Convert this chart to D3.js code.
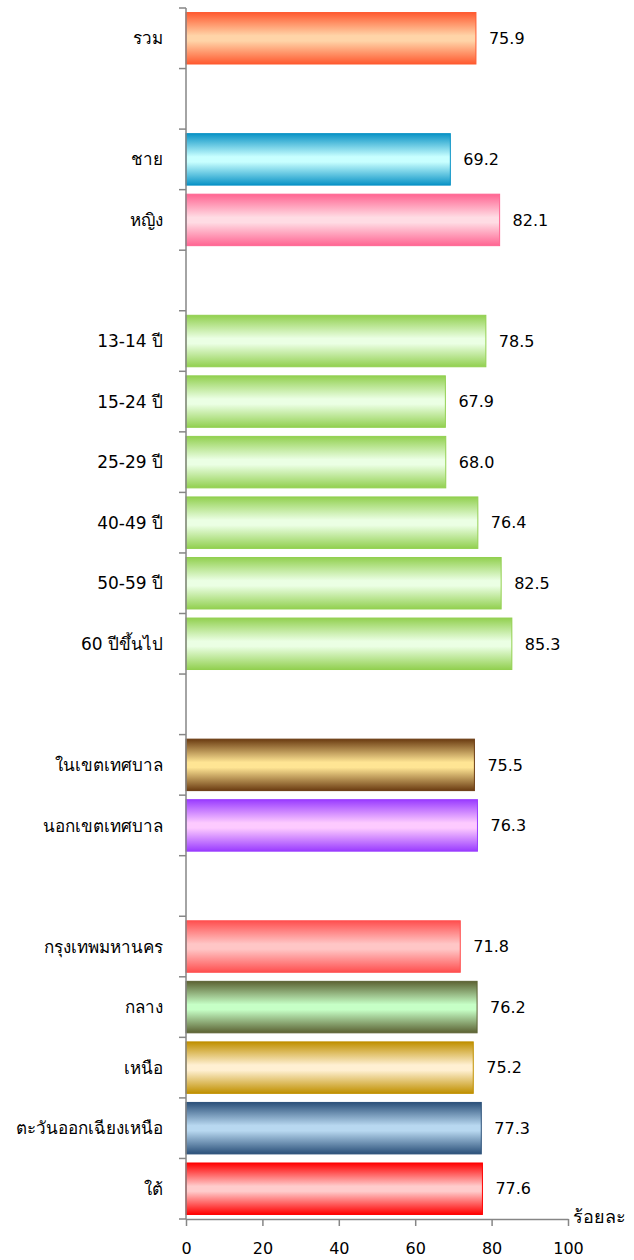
<!DOCTYPE html>
<html>
<head>
<meta charset="utf-8">
<script src="https://cdn.jsdelivr.net/npm/d3@7"></script>
<style>
  html, body { margin: 0; padding: 0; background: #fff; }
  svg { display: block; }
  text { font-family: "DejaVu Sans", "Noto Sans", sans-serif; fill: #000; }
</style>
</head>
<body>
<svg id="chart" width="634" height="1260"></svg>
<script>
// ---- data ----
const categories = ["รวม", "", "ชาย", "หญิง", "",
  "13-14 ปี", "15-24 ปี", "25-29 ปี", "40-49 ปี", "50-59 ปี", "60 ปีขึ้นไป", "",
  "ในเขตเทศบาล", "นอกเขตเทศบาล", "",
  "กรุงเทพมหานคร", "กลาง", "เหนือ", "ตะวันออกเฉียงเหนือ", "ใต้"];
const values = [75.9, null, 69.2, 82.1, null,
  78.5, 67.9, 68.0, 76.4, 82.5, 85.3, null,
  75.5, 76.3, null,
  71.8, 76.2, 75.2, 77.3, 77.6];
const xTicks = [0, 20, 40, 60, 80, 100];
const unitLabel = "ร้อยละ";

// colour pairs [edge, centre] per row
const edgeColors = ["#ff5a30", null, "#0a93c6", "#ff6592", null,
  "#92d050", "#92d050", "#92d050", "#92d050", "#92d050", "#92d050", null,
  "#6b3c12", "#9a3cff", null,
  "#ff4f4f", "#5c6233", "#c09000", "#2b5079", "#ff0000"];
const lightColors = ["#ffd4a8", null, "#c8ffff", "#ffdce4", null,
  "#ebffe4", "#ebffe4", "#ebffe4", "#ebffe4", "#ebffe4", "#ebffe4", null,
  "#ffe594", "#fdcaff", null,
  "#ffc6c6", "#c6ffc6", "#fff0d2", "#b8d8f0", "#ffcccc"];

// ---- layout ----
const svg = d3.select("#chart");
const mLeft = 186, mRight = 568, mTop = 8, mBottom = 1219;
const rows = categories.map((d, i) => i);

const x = d3.scaleLinear().domain([0, 100]).range([mLeft, mRight]);
const y = d3.scaleBand().domain(rows).range([mTop, mBottom]).padding(0);
const barH = y.bandwidth() * 0.85;

const defs = svg.append("defs");
rows.forEach(i => {
  if (values[i] == null) return;
  const g = defs.append("linearGradient").attr("id", "g" + i)
    .attr("x1", 0).attr("y1", 0).attr("x2", 0).attr("y2", 1);
  g.append("stop").attr("offset", "0%").attr("stop-color", edgeColors[i]);
  g.append("stop").attr("offset", "45%").attr("stop-color", lightColors[i]);
  g.append("stop").attr("offset", "55%").attr("stop-color", lightColors[i]);
  g.append("stop").attr("offset", "100%").attr("stop-color", edgeColors[i]);
});

// bars
const dataRows = rows.filter(i => values[i] != null);
svg.append("g").selectAll("rect").data(dataRows).join("rect")
  .attr("x", x(0))
  .attr("y", i => y(i) + (y.bandwidth() - barH) / 2)
  .attr("width", i => x(values[i]) - x(0))
  .attr("height", barH)
  .attr("fill", i => "url(#g" + i + ")")
  .attr("stroke", i => edgeColors[i])
  .attr("stroke-width", 1);

// value labels
svg.append("g").selectAll("text").data(dataRows).join("text")
  .attr("x", i => x(values[i]) + 13)
  .attr("y", i => y(i) + y.bandwidth() / 2)
  .attr("dy", "0.36em")
  .attr("font-size", 16)
  .text(i => values[i].toFixed(1));

// category labels
svg.append("g").selectAll("text").data(dataRows).join("text")
  .attr("x", 163)
  .attr("y", i => y(i) + y.bandwidth() / 2)
  .attr("dy", "0.36em")
  .attr("text-anchor", "end")
  .attr("font-size", 17)
  .text(i => categories[i]);

// y axis line + boundary ticks
const axisColor = "#868686";
const bounds = rows.map(i => y(i)).concat([mBottom]);
const ya = svg.append("g");
ya.append("line").attr("x1", mLeft).attr("x2", mLeft).attr("y1", mTop).attr("y2", mBottom)
  .attr("stroke", axisColor).attr("stroke-width", 1.5);
ya.selectAll("line.t").data(bounds).join("line").attr("class", "t")
  .attr("x1", mLeft - 7).attr("x2", mLeft).attr("y1", d => d).attr("y2", d => d)
  .attr("stroke", axisColor).attr("stroke-width", 1.5);

// x axis
const xa = svg.append("g").attr("transform", `translate(0,${mBottom})`)
  .call(d3.axisBottom(x).tickValues(xTicks).tickSize(7).tickPadding(17).tickSizeOuter(0));
xa.select(".domain").attr("stroke", axisColor).attr("stroke-width", 1.5);
xa.selectAll(".tick line").attr("stroke", axisColor).attr("stroke-width", 1.5);
xa.selectAll(".tick text").attr("font-size", 16).attr("font-family", "DejaVu Sans, sans-serif").attr("fill", "#000");

svg.append("text").attr("x", 573).attr("y", mBottom + 4)
  .attr("font-size", 18).text(unitLabel);
</script>
</body>
</html>
